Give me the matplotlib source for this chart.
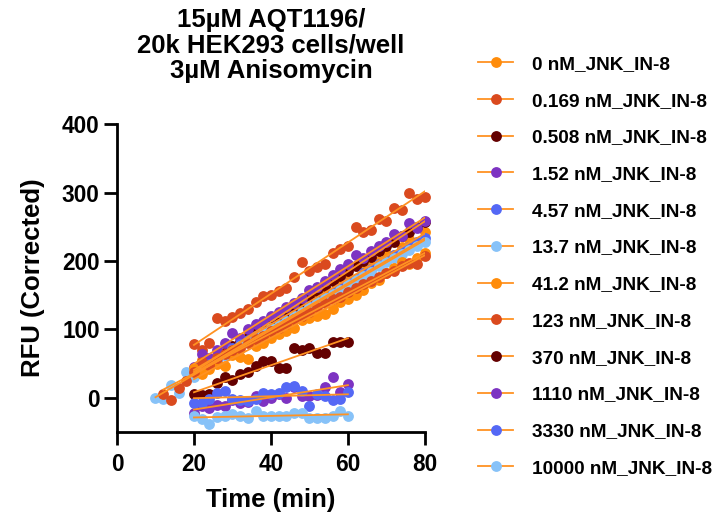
import numpy as np
import matplotlib
matplotlib.use("Agg")
import matplotlib.pyplot as plt
from matplotlib.lines import Line2D

plt.rcParams['font.family'] = ['Liberation Sans', 'DejaVu Sans']
plt.rcParams['font.weight'] = 'bold'

# series labels and marker colours
labels = ["0 nM_JNK_IN-8", "0.169 nM_JNK_IN-8", "0.508 nM_JNK_IN-8",
          "1.52 nM_JNK_IN-8", "4.57 nM_JNK_IN-8", "13.7 nM_JNK_IN-8",
          "41.2 nM_JNK_IN-8", "123 nM_JNK_IN-8", "370 nM_JNK_IN-8",
          "1110 nM_JNK_IN-8", "3330 nM_JNK_IN-8", "10000 nM_JNK_IN-8"]
colors = ["#FF8C0A", "#DA4A1E", "#640000", "#7D33C2", "#5468F5", "#87C2F8"] * 2
fit_color = "#FF9222"

# time points (min)
t_full = list(range(20, 81, 2))
t_early10 = list(range(10, 81, 2))
t_early12 = list(range(12, 81, 2))
t_short = list(range(20, 61, 2))

# RFU (corrected) per concentration
rfu_0 = [42, 55, 48, 62, 70, 66, 80, 92, 88, 100, 112, 108, 120, 128, 138, 135,
         150, 160, 155, 168, 178, 172, 190, 195, 200, 212, 208, 220, 232, 228, 242]
rfu_0169 = [79, 70, 80, 116, 112, 118, 124, 130, 140, 149, 150, 156, 160, 176, 198, 186,
            191, 196, 211, 218, 222, 249, 242, 245, 262, 259, 278, 274, 300, 291, 293]
rfu_0508 = [40, 45, 52, 58, 66, 75, 82, 88, 96, 104, 112, 118, 125, 134, 140, 148,
            156, 163, 170, 178, 186, 192, 200, 206, 214, 222, 228, 236, 243, 250, 257]
rfu_152 = [45, 64, 58, 70, 80, 94, 88, 100, 108, 112, 120, 126, 132, 138, 146, 158,
           162, 170, 180, 188, 195, 208, 205, 215, 222, 228, 240, 236, 255, 248, 259]
rfu_457 = [35, 42, 50, 55, 62, 72, 78, 85, 90, 96, 100, 105, 112, 120, 124, 134,
           140, 146, 153, 160, 168, 174, 182, 188, 195, 200, 208, 214, 220, 228, 233]
rfu_137 = [0, -2, 18, 7, 37, 30, 40, 46, 56, 62, 70, 76, 82, 86, 94, 102, 106, 112,
           120, 126, 132, 140, 146, 152, 158, 166, 172, 178, 184, 192, 198, 204,
           210, 216, 222, 228]
rfu_412 = [44, 35, 42, 50, 47, 62, 60, 57, 76, 80, 88, 93, 98, 102, 113, 116,
           120, 123, 130, 140, 145, 150, 157, 168, 172, 183, 190, 198, 196, 205, 212]
rfu_123 = [6, -4, 14, 24, 38, 52, 48, 58, 64, 70, 72, 80, 86, 90, 98, 102, 108,
           115, 120, 126, 132, 138, 144, 148, 154, 160, 166, 170, 176, 182, 186,
           192, 197, 196, 207]
rfu_370 = [6, 4, 6, 21, 30, 26, 35, 37, 47, 54, 54, 44, 44, 72, 70, 72, 66, 66, 81, 81, 82]
rfu_1110 = [-22, -12, -15, -10, -12, -4, -8, -6, 3, -5, 0, 5, 0, 15, 3, 3, 4, 15, 30, 8, 20]
rfu_3330 = [-7, -7, -2, 7, 10, -2, -4, -5, -2, 7, 5, 7, 15, 17, 10, -12, 5, 2, -4, -2, 8]
rfu_10000 = [-26, -31, -38, -28, -26, -24, -27, -30, -19, -27, -26, -26, -26, -22, -22,
             -29, -29, -29, -26, -20, -26]

times = [t_full, t_full, t_full, t_full, t_full, t_early10,
         t_full, t_early12, t_short, t_short, t_short, t_short]
values = [rfu_0, rfu_0169, rfu_0508, rfu_152, rfu_457, rfu_137,
          rfu_412, rfu_123, rfu_370, rfu_1110, rfu_3330, rfu_10000]

fig = plt.figure(figsize=(7.16, 5.13), dpi=100)
ax = fig.add_axes([0.1634, 0.158, 0.430, 0.600])

# points first, then the linear fits on top
for t, y, c in zip(times, values, colors):
    ax.plot(t, y, 'o', color=c, ms=7.8, mec='none', zorder=2, clip_on=False)
for t, y in zip(times, values):
    k, b = np.polyfit(t, y, 1)
    xs = np.array([t[0], t[-1]])
    ax.plot(xs, k * xs + b, '-', color=fit_color, lw=1.3, zorder=3)

ax.set_xlim(0, 80)
ax.set_ylim(-50, 400)
ax.set_xticks([0, 20, 40, 60, 80])
ax.set_yticks([0, 100, 200, 300, 400])
for s in ['top', 'right']:
    ax.spines[s].set_visible(False)
for s in ['left', 'bottom']:
    ax.spines[s].set_linewidth(2.0)
ax.tick_params(width=2.0, length=9.5, labelsize=16.3, pad=3)
ax.tick_params(axis='x', pad=5.5)
for lab in ax.get_xticklabels() + ax.get_yticklabels():
    lab.set_fontweight('bold')

ax.set_xlabel("Time (min)", fontsize=18.5, fontweight='bold', labelpad=9)
ax.set_ylabel("RFU (Corrected)", fontsize=18.5, fontweight='bold', labelpad=12.5)
ax.set_title("15µM AQT1196/\n20k HEK293 cells/well\n3µM Anisomycin",
             fontsize=18.5, fontweight='bold', pad=33, linespacing=1.1)

handles = [Line2D([], [], color=fit_color, lw=1.3, marker='o', ms=7.8,
                  mfc=c, mec='none') for c in colors]
fig.legend(handles, labels, loc='upper left', bbox_to_anchor=(0.644, 0.925),
           frameon=False, handlelength=1.85, handletextpad=0.95,
           labelspacing=1.02, prop={'weight': 'bold', 'size': 13.7})

fig.savefig("out.png", dpi=100)
